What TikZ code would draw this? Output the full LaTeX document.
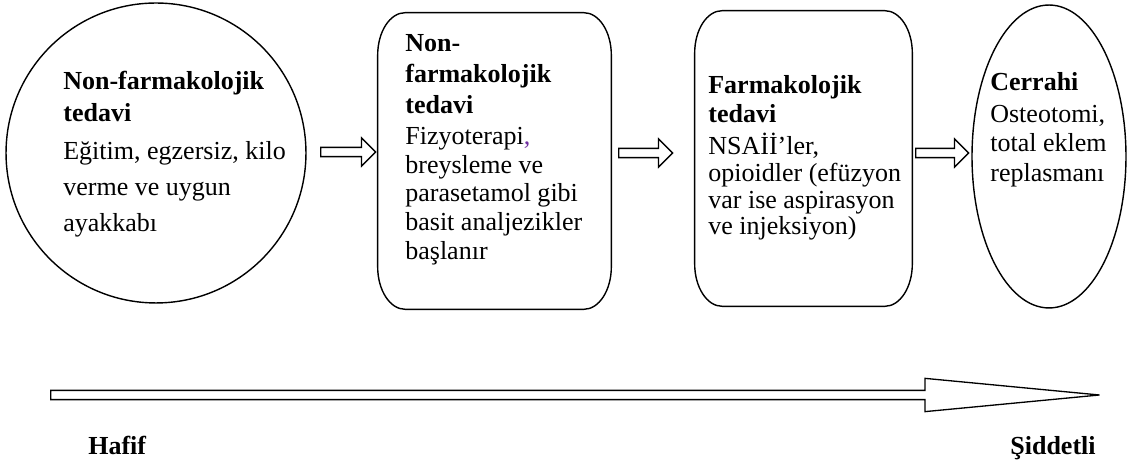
\documentclass[tikz,border=0pt]{standalone}
\usepackage{fontspec}
\setmainfont{Liberation Serif}
\usepackage{xcolor}
\definecolor{commapurple}{HTML}{7030A0}
\usepackage{tikz}
\usetikzlibrary{shapes.geometric, shapes.arrows}

\tikzset{
  shapeline/.style={draw=black, line width=0.8pt, inner sep=0pt},
  boxframe/.style={rectangle, inner sep=0pt},
  txt/.style={anchor=north west, inner sep=0pt, align=left, font=\fontsize{14.8}{16.3}\selectfont},
  blockarrow/.style={shape=single arrow, draw=black, line width=0.75pt, inner xsep=0pt, inner ysep=2.27pt,
    single arrow head extend=0.19cm, single arrow tip angle=90, anchor=tail}
}
\newcommand{\softbox}[1]{%
  \draw[shapeline] ([xshift=0.55cm]#1.north west) -- ([xshift=-0.55cm]#1.north east)
    arc[start angle=90, end angle=0, x radius=0.55cm, y radius=0.85cm]
    -- ([yshift=0.85cm]#1.south east)
    arc[start angle=0, end angle=-90, x radius=0.55cm, y radius=0.85cm]
    -- ([xshift=0.55cm]#1.south west)
    arc[start angle=270, end angle=180, x radius=0.55cm, y radius=0.85cm]
    -- ([yshift=-0.85cm]#1.north west)
    arc[start angle=180, end angle=90, x radius=0.55cm, y radius=0.85cm] -- cycle;}

\begin{document}
\begin{tikzpicture}[x=0.02cm, y=-0.02cm]
  \useasboundingbox (0,0) rectangle (1127,475);

  \node[shapeline, circle, minimum size=6cm] (circ) at (156,153) {};
  \node[boxframe, minimum width=4.66cm, minimum height=5.92cm] (boxa) at (494.5,161) {};
  \node[boxframe, minimum width=4.34cm, minimum height=5.9cm] (boxb) at (803.5,158.5) {};
  \node[shapeline, ellipse, minimum width=3.08cm, minimum height=6.06cm] (oval) at (1049,156.5) {};
  \softbox{boxa}
  \softbox{boxb}

  \node[txt] (circtxt) at (63,71) {\textbf{Non-farmakolojik}\\[1.8pt] \textbf{tedavi}\\[5.5pt]
    Eğitim, egzersiz, kilo\\[4pt] verme ve uygun\\[4pt] ayakkabı};
  \node[txt] (boxatxt) at (405,34) {\textbf{Non-}\\[1.4pt] \textbf{farmakolojik}\\[1.4pt] \textbf{tedavi}\\[1.4pt]
    Fizyoterapi\textcolor{commapurple}{,}\\ breysleme ve\\ parasetamol gibi\\ basit analjezikler\\ başlanır};
  \node[txt] (boxbtxt) at (708,75.5) {\textbf{Farmakolojik}\\ \textbf{tedavi}\\[1.8pt]
    NSAİİ’ler,\\[-1pt] opioidler (efüzyon\\[-1pt] var ise aspirasyon\\[-1pt] ve injeksiyon)};
  \node[txt] (ovaltxt) at (990,72.5) {\textbf{Cerrahi}\\[1.8pt] Osteotomi,\\[0.3pt] total eklem\\[0.3pt] replasmanı};

  \node[blockarrow, minimum height=1.1cm] (arra) at (320,152) {};
  \node[blockarrow, minimum height=1.08cm] (arrb) at (618,153) {};
  \node[blockarrow, minimum height=1.06cm] (arrc) at (915,153) {};

  \node[shape=single arrow, draw=black, line width=0.75pt, inner xsep=0pt, inner ysep=2.27pt, anchor=tail,
    single arrow head extend=0.24cm, single arrow tip angle=10.9, minimum height=20.98cm] (sevarrow) at (50,395) {};

  \node[anchor=base west, inner sep=0pt, font=\fontsize{14.8}{16}\selectfont\bfseries] (hafif) at (88,455) {Hafif};
  \node[anchor=base east, inner sep=0pt, font=\fontsize{14.8}{16}\selectfont\bfseries] (siddetli) at (1096,455) {Şiddetli};
\end{tikzpicture}
\end{document}
